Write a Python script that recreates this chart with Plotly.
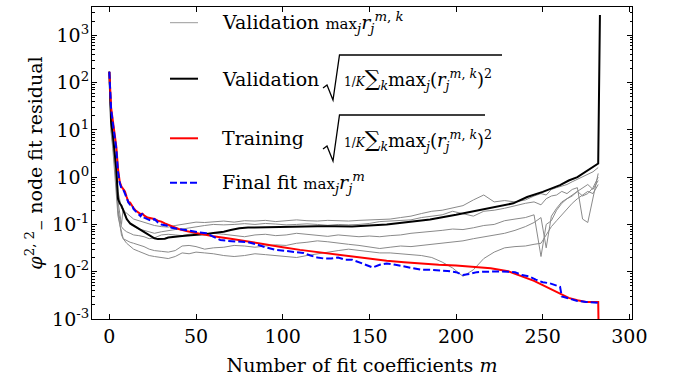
import plotly.graph_objects as go

# ---- data -------------------------------------------------------------
# training residual (red)
m_train = [0, 1, 2, 3, 4, 5, 6, 7, 8, 9, 10, 11, 12, 13, 14, 15, 16, 17, 18, 19, 20,
           22, 24, 26, 28, 30, 32, 35, 40, 45, 50, 55, 60, 70, 80, 90, 100, 110, 120,
           130, 140, 150, 160, 170, 180, 190, 200, 210, 220, 230, 240, 245, 250, 255,
           260, 265, 270, 275, 280, 282, 283]
training = [170, 30, 16, 8, 4.5, 1.5, 0.8, 0.63, 0.55, 0.5, 0.38, 0.3, 0.29, 0.25, 0.22,
            0.2, 0.19, 0.18, 0.165, 0.17, 0.155, 0.14, 0.135, 0.13, 0.12, 0.115, 0.105,
            0.095, 0.08, 0.072, 0.066, 0.06, 0.056, 0.05, 0.043, 0.038, 0.033, 0.029,
            0.026, 0.023, 0.021, 0.019, 0.017, 0.0158, 0.0148, 0.014, 0.0135, 0.0128,
            0.0118, 0.0102, 0.0076, 0.0064, 0.0052, 0.0042, 0.0034, 0.0028, 0.0025,
            0.0023, 0.0023, 0.0023, 0.00001]

# final fit residual (blue, dashed)
m_final = [0, 1, 2, 3, 4, 5, 6, 7, 8, 9, 10, 11, 12, 13, 14, 16, 18, 19, 20, 22, 24, 26,
           28, 30, 33, 36, 40, 44, 48, 52, 56, 60, 64, 68, 72, 76, 80, 85, 90, 96, 100,
           104, 108, 112, 116, 120, 124, 128, 132, 136, 140, 144, 148, 152, 156, 160,
           165, 170, 175, 180, 185, 190, 195, 200, 204, 208, 212, 216, 220, 225, 230,
           234, 238, 242, 246, 250, 254, 258, 260, 261, 265, 270, 275, 280, 282]
final_fit = [170, 28, 14, 7.5, 4, 1.3, 0.75, 0.58, 0.55, 0.45, 0.35, 0.29, 0.26, 0.26,
             0.21, 0.18, 0.15, 0.17, 0.14, 0.13, 0.12, 0.13, 0.11, 0.1, 0.095, 0.085,
             0.08, 0.075, 0.07, 0.068, 0.065, 0.055, 0.047, 0.045, 0.044, 0.043, 0.042,
             0.038, 0.033, 0.029, 0.028, 0.027, 0.026, 0.025, 0.022, 0.02, 0.019, 0.019,
             0.02, 0.018, 0.018, 0.016, 0.014, 0.0123, 0.014, 0.015, 0.014, 0.013,
             0.0118, 0.011, 0.011, 0.0108, 0.0104, 0.0098, 0.0085, 0.009, 0.0098, 0.01,
             0.0102, 0.0101, 0.01, 0.0098, 0.0085, 0.008, 0.0068, 0.006, 0.0057, 0.0052,
             0.0048, 0.003, 0.0027, 0.0024, 0.0023, 0.0022, 0.0022]

# validation RMS over folds (black)
m_valid = [0, 1, 2, 3, 4, 5, 6, 7, 8, 9, 10, 12, 14, 16, 18, 20, 22, 24, 26, 28, 30, 32,
           34, 37, 42, 47, 52, 56, 60, 66, 70, 75, 80, 90, 100, 110, 120, 130, 140, 150,
           160, 170, 185, 200, 214, 225, 233, 241, 250, 260, 265, 270, 275, 280, 282, 283]
validation_rms = [170, 15, 8, 4, 1.5, 0.35, 0.28, 0.25, 0.2, 0.15, 0.13, 0.105, 0.095,
                  0.085, 0.076, 0.07, 0.062, 0.056, 0.051, 0.049, 0.05, 0.05, 0.053,
                  0.055, 0.057, 0.059, 0.06, 0.063, 0.066, 0.07, 0.076, 0.083, 0.086,
                  0.088, 0.09, 0.09, 0.092, 0.092, 0.091, 0.095, 0.1, 0.11, 0.128, 0.16,
                  0.2, 0.24, 0.28, 0.38, 0.49, 0.68, 0.85, 1.0, 1.3, 1.7, 1.95, 2700]

# per-fold validation maxima (grey)
m_fold = [0, 1, 2, 3, 4, 5, 6, 7, 8, 10, 12, 14, 17, 20, 23, 26, 30, 34, 38, 42, 46, 50,
          55, 60, 66, 72, 78, 84, 90, 96, 102, 108, 114, 120, 126, 132, 138, 144, 150,
          156, 162, 168, 174, 180, 186, 192, 198, 204, 210, 216, 222, 228, 234, 240,
          245, 249, 252, 255, 258, 261, 264, 267, 270, 273, 276, 279, 282]
fold_1 = [170, 20, 9, 4, 1.8, 0.5, 0.3, 0.22, 0.2, 0.17, 0.15, 0.13, 0.12, 0.11, 0.1,
          0.095, 0.09, 0.088, 0.095, 0.1, 0.108, 0.112, 0.11, 0.115, 0.118, 0.112, 0.12,
          0.118, 0.122, 0.115, 0.12, 0.125, 0.12, 0.118, 0.122, 0.12, 0.118, 0.122,
          0.125, 0.124, 0.13, 0.14, 0.15, 0.17, 0.19, 0.2, 0.22, 0.25, 0.33, 0.42, 0.3,
          0.32, 0.3, 0.33, 0.4, 0.45, 0.42, 0.55, 0.6, 0.65, 0.7, 0.8, 0.9, 1.0, 1.15,
          1.3, 1.6]
fold_2 = [170, 14, 7, 3, 1.2, 0.3, 0.15, 0.1, 0.22, 0.14, 0.1, 0.09, 0.08, 0.075, 0.07,
          0.065, 0.07, 0.075, 0.078, 0.08, 0.085, 0.09, 0.095, 0.1, 0.098, 0.1, 0.104,
          0.1, 0.105, 0.102, 0.098, 0.1, 0.103, 0.1, 0.096, 0.1, 0.098, 0.1, 0.105,
          0.115, 0.118, 0.12, 0.125, 0.14, 0.15, 0.16, 0.19, 0.17, 0.15, 0.19, 0.2, 0.22,
          0.25, 0.28, 0.3, 0.26, 0.35, 0.4, 0.42, 0.5, 0.45, 0.55, 0.6, 0.13, 0.11, 0.35,
          1.2]
fold_3 = [170, 12, 6, 2.5, 0.9, 0.2, 0.12, 0.09, 0.08, 0.07, 0.065, 0.06, 0.058, 0.055,
          0.05, 0.052, 0.06, 0.062, 0.06, 0.058, 0.062, 0.065, 0.06, 0.065, 0.062, 0.058,
          0.055, 0.06, 0.062, 0.058, 0.06, 0.065, 0.062, 0.058, 0.056, 0.06, 0.058,
          0.055, 0.057, 0.055, 0.058, 0.06, 0.065, 0.068, 0.07, 0.075, 0.08, 0.078,
          0.085, 0.095, 0.1, 0.12, 0.13, 0.14, 0.16, 0.021, 0.1, 0.12, 0.2, 0.28, 0.35,
          0.4, 0.5, 0.6, 0.7, 0.55, 0.85]
fold_4 = [170, 10, 5, 2, 0.7, 0.18, 0.09, 0.06, 0.05, 0.045, 0.042, 0.04, 0.037, 0.034,
          0.03, 0.028, 0.027, 0.026, 0.028, 0.035, 0.036, 0.034, 0.03, 0.032, 0.033,
          0.036, 0.035, 0.033, 0.035, 0.037, 0.036, 0.04, 0.042, 0.045, 0.043, 0.04,
          0.038, 0.036, 0.033, 0.031, 0.033, 0.035, 0.034, 0.036, 0.038, 0.04, 0.042,
          0.045, 0.05, 0.055, 0.06, 0.065, 0.075, 0.09, 0.11, 0.14, 0.032, 0.15, 0.22,
          0.3, 0.35, 0.42, 0.5, 0.4, 0.45, 0.6, 1.0]
fold_5 = [170, 9, 4, 1.5, 0.5, 0.15, 0.1, 0.07, 0.05, 0.04, 0.035, 0.03, 0.027, 0.024,
          0.022, 0.021, 0.02, 0.019, 0.021, 0.025, 0.024, 0.026, 0.025, 0.024, 0.022,
          0.021, 0.022, 0.024, 0.023, 0.022, 0.021, 0.02, 0.022, 0.024, 0.026, 0.028,
          0.03, 0.028, 0.026, 0.025, 0.025, 0.024, 0.023, 0.022, 0.02, 0.016, 0.012,
          0.008, 0.011, 0.019, 0.026, 0.032, 0.034, 0.035, 0.038, 0.04, 0.06, 0.09,
          0.12, 0.16, 0.22, 0.28, 0.35, 0.42, 0.5, 0.45, 0.7]
fold_runs = [fold_1, fold_2, fold_3, fold_4, fold_5]

x_ticks = [0, 50, 100, 150, 200, 250, 300]
y_ticks = [1e-3, 1e-2, 1e-1, 1e0, 1e1, 1e2, 1e3]
y_tick_text = ["10<sup>-3</sup>", "10<sup>-2</sup>", "10<sup>-1</sup>", "10<sup>0</sup>",
               "10<sup>1</sup>", "10<sup>2</sup>", "10<sup>3</sup>"]
y_minor = [k * 10.0 ** e for e in range(-3, 4) for k in range(2, 10)]

FONT = "DejaVu Serif"
FS = 19

# ---- figure -----------------------------------------------------------
fig = go.Figure()
for run in fold_runs:
    fig.add_trace(go.Scatter(x=m_fold, y=run, mode="lines",
                             line=dict(color="#8a8a8a", width=1),
                             showlegend=False, hoverinfo="skip"))
fig.add_trace(go.Scatter(x=m_valid, y=validation_rms, mode="lines",
                         line=dict(color="black", width=2), showlegend=False))
fig.add_trace(go.Scatter(x=m_train, y=training, mode="lines",
                         line=dict(color="red", width=2), showlegend=False))
fig.add_trace(go.Scatter(x=m_final, y=final_fit, mode="lines",
                         line=dict(color="blue", width=2, dash="7px,3px"),
                         showlegend=False))

# plot-area pixel box, used to place the hand-built legend
L, R, T, B = 92, 632, 7, 319


def px(xp):
    return (xp - L) / (R - L)


def py(yp):
    return (B - yp) / (B - T)


shapes = []
annotations = []
rows = [
    (22.7, dict(color="#9a9a9a", width=1)),
    (78.7, dict(color="black", width=2)),
    (138.3, dict(color="red", width=2)),
    (182.7, dict(color="blue", width=2, dash="7px,3px")),
]
for yrow, ln in rows:
    shapes.append(dict(type="line", xref="paper", yref="paper",
                       x0=px(170), x1=px(198), y0=py(yrow), y1=py(yrow), line=ln))

# radical signs for the RMS expressions
for top, bottom, end in [(55, 100, 502), (115, 161, 485)]:
    pts = [(323, bottom - 12), (327, bottom - 15), (333, bottom), (339.5, top), (end, top)]
    path = "M " + " L ".join(f"{px(a):.5f},{py(b):.5f}" for a, b in pts)
    shapes.append(dict(type="path", xref="paper", yref="paper", path=path,
                       line=dict(color="black", width=1.3)))

mk = "<i>r</i><sub><i>j</i></sub><sup><i>m</i>, <i>k</i></sup>"
rms = ("<span style='font-size:12px'>1/<i>K</i></span>"
       "<span style='font-size:22px'>∑</span><sub><i>k</i></sub>"
       "max<sub><i>j</i></sub>(" + mk + ")<sup>2</sup>")
labels = [
    (220, 22.7, "Validation <span style='font-size:15px'>max</span><sub><i>j</i></sub>" + mk, FS),
    (220, 78.7, "Validation", FS),
    (342, 80, rms, 18),
    (220, 138.3, "Training", FS),
    (342, 140, rms, 18),
    (220, 182.7, "Final fit <span style='font-size:15px'>max</span><sub><i>j</i></sub>"
     "<i>r</i><sub><i>j</i></sub><sup><i>m</i></sup>", FS),
]
for xp, yp, txt, size in labels:
    annotations.append(dict(xref="paper", yref="paper", x=px(xp), y=py(yp),
                            xanchor="left", yanchor="middle", showarrow=False,
                            text=txt, font=dict(family=FONT, size=size, color="black")))

axis_common = dict(showline=True, linecolor="black", linewidth=1, mirror="allticks",
                   ticks="inside", ticklen=5, tickcolor="black", showgrid=False,
                   zeroline=False, tickfont=dict(family=FONT, size=FS, color="black"))

fig.update_layout(
    width=675, height=379,
    margin=dict(l=L, r=675 - R, t=T, b=379 - B),
    paper_bgcolor="white", plot_bgcolor="white",
    showlegend=False,
    shapes=shapes, annotations=annotations,
    xaxis=dict(range=[-10, 301.5], tickmode="array", tickvals=x_ticks,
               title=dict(text="Number of fit coefficients <i>m</i>",
                          font=dict(family=FONT, size=FS, color="black"), standoff=12),
               **axis_common),
    yaxis=dict(type="log", range=[-3, 3.6], tickmode="array", tickvals=y_ticks,
               ticktext=y_tick_text, ticklabelstandoff=-2,
               minor=dict(ticks="inside", ticklen=2.5, tickcolor="black",
                          tickmode="array", tickvals=y_minor, showgrid=False),
               title=dict(text="<i>φ</i><sup>2, 2</sup><sub>−</sub> node fit residual",
                          font=dict(family=FONT, size=FS, color="black"), standoff=4),
               **axis_common),
)

fig.write_html("out.html")
